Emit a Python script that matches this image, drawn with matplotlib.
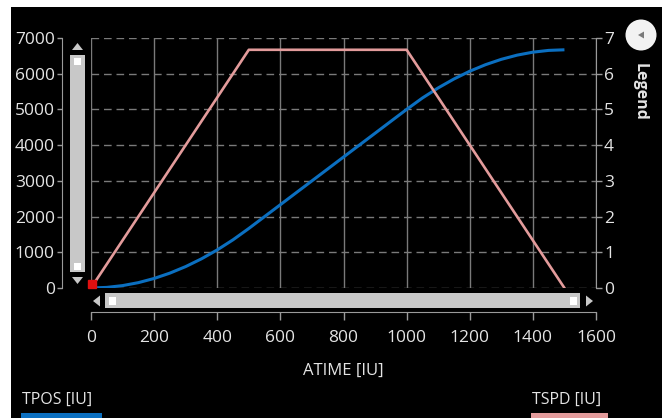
import matplotlib
matplotlib.use("Agg")
import matplotlib.pyplot as plt
from matplotlib.patches import Rectangle, Polygon, Circle
from matplotlib.transforms import ScaledTranslation

# ---- data -------------------------------------------------------------
atime = [0, 50, 100, 150, 200, 250, 300, 350, 400, 450, 500,
         550, 600, 650, 700, 750, 800, 850, 900, 950, 1000,
         1050, 1100, 1150, 1200, 1250, 1300, 1350, 1400, 1450, 1500]
tpos = [0, 17, 67, 150, 267, 417, 600, 817, 1067, 1350, 1667,
        2000, 2333, 2667, 3000, 3333, 3667, 4000, 4333, 4667, 5000,
        5320, 5603, 5853, 6070, 6253, 6403, 6520, 6603, 6653, 6670]

tspd_time = [0, 500, 1000, 1500]
tspd = [0, 6.67, 6.67, 0]

x_ticks = [0, 200, 400, 600, 800, 1000, 1200, 1400, 1600]
pos_ticks = [0, 1000, 2000, 3000, 4000, 5000, 6000, 7000]
spd_ticks = [0, 1, 2, 3, 4, 5, 6, 7]

x_label = "ATIME [IU]"
pos_name = "TPOS [IU]"
spd_name = "TSPD [IU]"

# ---- style ------------------------------------------------------------
W, H = 662, 418
PX = 72 / 100          # points per pixel at 100 dpi
FONT = "Open Sans"
TXT = "#e4e4e4"
AXC = "#9a9a9a"
GRID = "#7a7a7a"
BLUE = "#0b6fc0"
PINK = "#e39b9b"
BAR = "#c8c8c8"

plt.rcParams["font.family"] = [FONT, "DejaVu Sans"]

fig = plt.figure(figsize=(W / 100, H / 100), dpi=100, facecolor="white")

# dark panel behind everything (white margin at left and top)
fig.patches.append(Rectangle((11 / W, 0), 1 - 11 / W, 1 - 7 / H,
                             transform=fig.transFigure, facecolor="black",
                             edgecolor="none", zorder=-10))

L, R, T, B = 91, 596, 38, 288
ax = fig.add_axes([L / W, 1 - B / H, (R - L) / W, (B - T) / H])
ax.set_facecolor("none")
ax2 = ax.twinx()
ax2.set_facecolor("none")

ax.set_xlim(0, 1600)
ax.set_ylim(0, 7000)
ax2.set_ylim(0, 7)

# grid: solid verticals, dashed horizontals
ax.set_xticks(x_ticks)
ax.set_yticks(pos_ticks)
ax2.set_yticks(spd_ticks)
ax.grid(axis="x", color=GRID, linewidth=1.0, linestyle="-")
ax.grid(axis="y", color=GRID, linewidth=1.0, linestyle=(0, (5.5, 3.5)))
ax.set_axisbelow(True)

for a in (ax, ax2):
    for s in a.spines.values():
        s.set_visible(False)

ax.spines["left"].set_visible(True)
ax.spines["left"].set_position(("outward", 29 * PX))
ax.spines["left"].set_color(AXC)
ax.spines["bottom"].set_visible(True)
ax.spines["bottom"].set_position(("outward", 24 * PX))
ax.spines["bottom"].set_color(AXC)
ax2.spines["right"].set_visible(True)
ax2.spines["right"].set_color(AXC)

ax.tick_params(axis="y", colors=AXC, labelcolor=TXT, labelsize=12.5,
               length=5 * PX, width=1, direction="out", pad=1.5)
ax.tick_params(axis="x", colors=AXC, labelcolor=TXT, labelsize=12.5,
               length=8 * PX, width=1, direction="out", pad=7.5)
ax2.tick_params(axis="y", colors=AXC, labelcolor=TXT, labelsize=12.5,
                length=6 * PX, width=1, direction="out", pad=1.5)
ax.set_xlabel(x_label, color=TXT, fontsize=12, labelpad=11.5)

# series
ax.plot(atime, tpos, color=BLUE, linewidth=2.2, solid_capstyle="butt",
        zorder=3)
ax2.plot(tspd_time, tspd, color=PINK, linewidth=1.9, zorder=3)
lift = ScaledTranslation(1 / 100, 4 / 100, fig.dpi_scale_trans)
ax2.plot(tspd_time[:1], tspd[:1], linestyle="none", marker="s",
         markersize=5.5, color="#e01010", clip_on=False,
         transform=ax2.transData + lift, zorder=4)

# ---- overlay in pixel coordinates: scrollbars, legend controls --------
ov = fig.add_axes([0, 0, 1, 1], zorder=10)
ov.set_xlim(0, W)
ov.set_ylim(H, 0)
ov.axis("off")
ov.patch.set_alpha(0)

# vertical scrollbar
ov.add_patch(Rectangle((70, 55), 15, 217, facecolor=BAR, edgecolor="none"))
ov.add_patch(Rectangle((74, 58), 7, 7, facecolor="white", edgecolor="none"))
ov.add_patch(Rectangle((74, 263), 7, 7, facecolor="white", edgecolor="none"))
ov.add_patch(Polygon([(72, 50), (83, 50), (77.5, 43)], facecolor=BAR,
                     edgecolor="none"))
ov.add_patch(Polygon([(72, 277), (83, 277), (77.5, 284)], facecolor=BAR,
                     edgecolor="none"))

# horizontal scrollbar
ov.add_patch(Rectangle((105, 293), 475, 15, facecolor=BAR, edgecolor="none"))
ov.add_patch(Rectangle((109, 297), 7, 8, facecolor="white", edgecolor="none"))
ov.add_patch(Rectangle((570, 297), 7, 8, facecolor="white", edgecolor="none"))
ov.add_patch(Polygon([(100, 295.5), (100, 306.5), (93, 301)], facecolor=BAR,
                     edgecolor="none"))
ov.add_patch(Polygon([(586, 295.5), (586, 306.5), (593, 301)], facecolor=BAR,
                     edgecolor="none"))

# legend toggle button and caption
ov.add_patch(Circle((641, 35), 15.5, facecolor="#f2f2f2", edgecolor="none"))
ov.add_patch(Polygon([(644, 31.5), (644, 38.5), (638, 35)],
                     facecolor="#7a7a7a", edgecolor="none"))
ov.text(640, 92, "Legend", rotation=-90, ha="center", va="center",
        color=TXT, fontsize=11.5, fontweight="bold")

# series legend along the bottom
ov.text(22, 400, pos_name, ha="left", va="center", color=TXT, fontsize=11.5)
ov.add_patch(Rectangle((21, 413), 81, 6, facecolor=BLUE, edgecolor="none"))
ov.text(532, 400, spd_name, ha="left", va="center", color=TXT, fontsize=11.5)
ov.add_patch(Rectangle((531, 413), 77, 6, facecolor=PINK, edgecolor="none"))

fig.savefig("out.png", dpi=100, facecolor=fig.get_facecolor())
